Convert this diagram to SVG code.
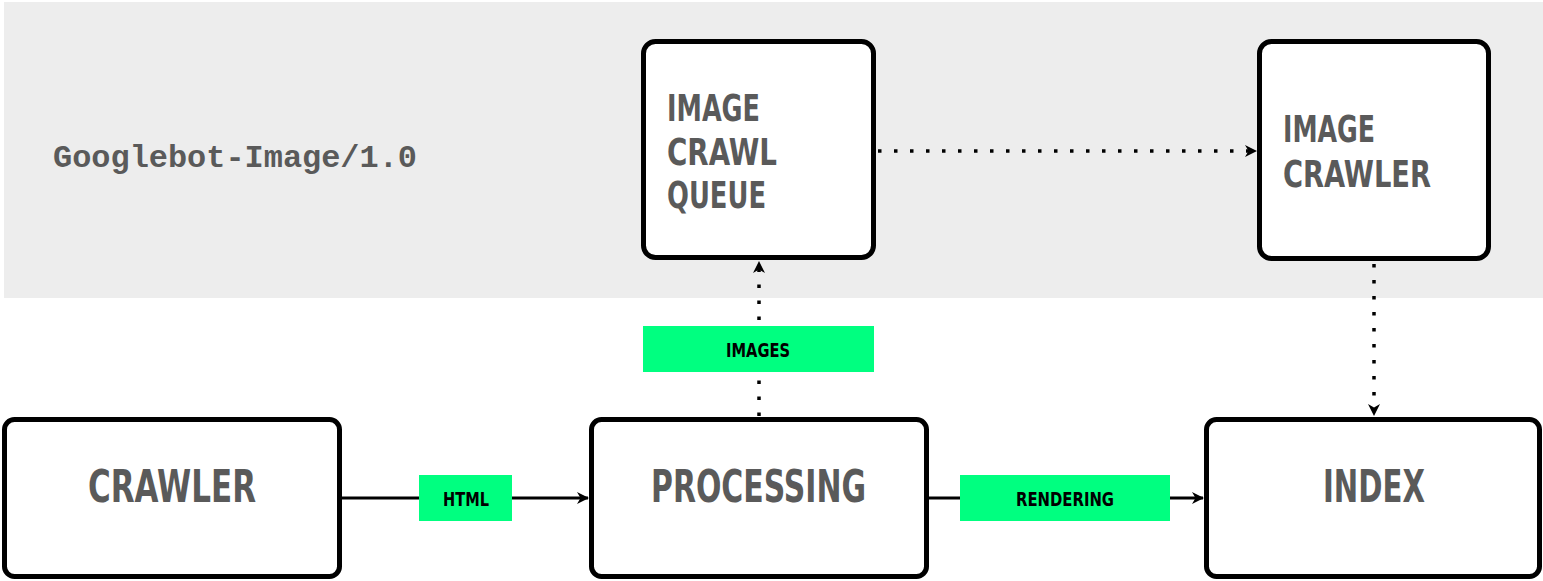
<svg xmlns="http://www.w3.org/2000/svg" width="1543" height="581" viewBox="0 0 1543 581">
<style>
.box{fill:#fff;stroke:#000;stroke-width:5}
.nt{font-family:"Liberation Sans Narrow","DejaVu Sans Condensed","Liberation Sans",sans-serif;font-weight:bold;fill:#5a5a5a}
.lb{fill:#00ff80}
.lt{font-family:"Liberation Sans Narrow","DejaVu Sans Condensed","Liberation Sans",sans-serif;font-weight:bold;font-size:20px;fill:#000;text-anchor:middle}
.solid{stroke:#000;stroke-width:3;fill:none}
.dot{stroke:#000;stroke-width:3.5;fill:none;stroke-dasharray:3.5 12.5}
</style>
<defs>
<marker id="arr" markerUnits="userSpaceOnUse" markerWidth="14" markerHeight="14" viewBox="0 0 14 14" refX="12" refY="7" orient="auto">
<path d="M1,1 L13,7 L1,13 L4.5,7 Z" fill="#000"/>
</marker>
</defs>
<rect id="bg" x="4" y="2" width="1539" height="296" fill="#ededed"/>
<text x="53" y="167" font-family="Liberation Mono,monospace" font-weight="bold" font-size="32" fill="#5a5a5a" textLength="364" lengthAdjust="spacingAndGlyphs">Googlebot-Image/1.0</text>
<g id="connectors">
<line class="solid" x1="342" y1="498" x2="588" y2="498" marker-end="url(#arr)"/>
<line class="solid" x1="929" y1="498" x2="1203" y2="498" marker-end="url(#arr)"/>
<line class="dot" x1="759" y1="416" x2="759" y2="262" marker-end="url(#arr)"/>
<line class="dot" x1="878" y1="151" x2="1256" y2="151" marker-end="url(#arr)"/>
<line class="dot" x1="1374" y1="264" x2="1374" y2="415" marker-end="url(#arr)"/>
<g id="lbl-html"><rect class="lb" x="419" y="475" width="93" height="46"/><text class="lt" x="466" y="506" textLength="46" lengthAdjust="spacingAndGlyphs">HTML</text></g>
<g id="lbl-rendering"><rect class="lb" x="960" y="475" width="210" height="46"/><text class="lt" x="1065" y="506" textLength="98" lengthAdjust="spacingAndGlyphs">RENDERING</text></g>
<g id="lbl-images"><rect class="lb" x="643" y="326" width="231" height="46"/><text class="lt" x="758" y="357" textLength="64" lengthAdjust="spacingAndGlyphs">IMAGES</text></g>
</g>
<g id="queue">
<rect class="box" x="643.5" y="41.5" width="230" height="216" rx="12"/>
<text class="nt" font-size="38" x="667" y="121" textLength="93" lengthAdjust="spacingAndGlyphs">IMAGE</text>
<text class="nt" font-size="38" x="667" y="165" textLength="110" lengthAdjust="spacingAndGlyphs">CRAWL</text>
<text class="nt" font-size="38" x="667" y="208" textLength="99" lengthAdjust="spacingAndGlyphs">QUEUE</text>
</g>
<g id="imagecrawler">
<rect class="box" x="1259.5" y="41.5" width="229" height="217" rx="12"/>
<text class="nt" font-size="38" x="1283" y="142" textLength="92" lengthAdjust="spacingAndGlyphs">IMAGE</text>
<text class="nt" font-size="38" x="1283" y="187" textLength="148" lengthAdjust="spacingAndGlyphs">CRAWLER</text>
</g>
<g id="crawler">
<rect class="box" x="4.5" y="419.5" width="335" height="157" rx="10"/>
<text class="nt" font-size="44" x="88" y="502" textLength="168" lengthAdjust="spacingAndGlyphs">CRAWLER</text>
</g>
<g id="processing">
<rect class="box" x="591.5" y="419.5" width="335" height="157" rx="10"/>
<text class="nt" font-size="44" x="651" y="502" textLength="215" lengthAdjust="spacingAndGlyphs">PROCESSING</text>
</g>
<g id="index">
<rect class="box" x="1206.5" y="419.5" width="333" height="157" rx="10"/>
<text class="nt" font-size="44" x="1323" y="502" textLength="102" lengthAdjust="spacingAndGlyphs">INDEX</text>
</g>
</svg>
